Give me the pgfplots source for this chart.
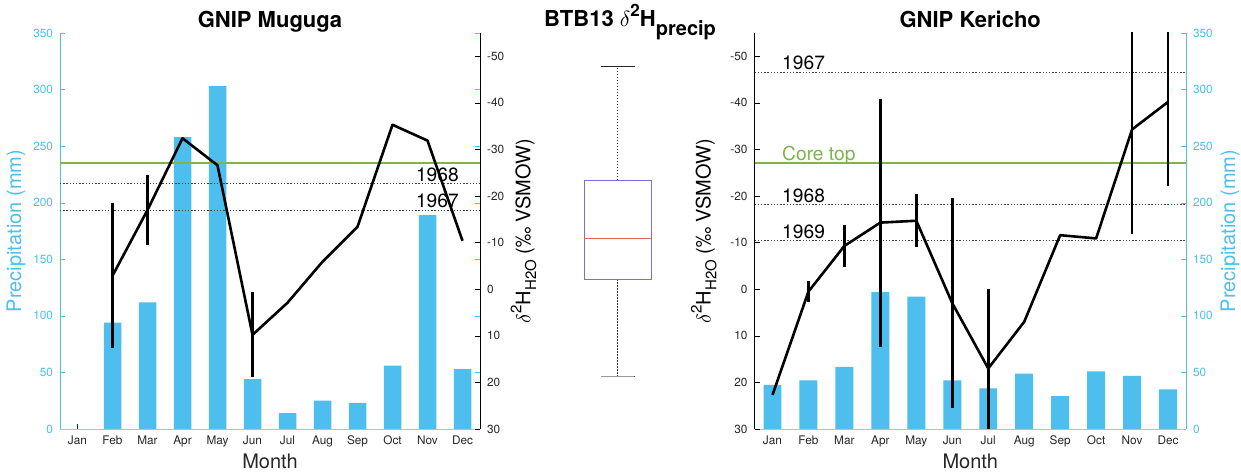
\documentclass[border=0pt]{standalone}
\usepackage{fontspec}
\setmainfont{TeX Gyre Heros}
\usepackage{pgfplots}
\pgfplotsset{compat=1.18}
\usepgfplotslibrary{statistics}
\definecolor{prc}{RGB}{77,190,238}
\definecolor{grn}{RGB}{125,180,75}
\definecolor{txt}{RGB}{38,38,38}
\definecolor{boxblue}{RGB}{115,115,215}
\definecolor{medred}{RGB}{215,105,95}
\newcommand{\dlabel}{$\delta$\raisebox{0.85ex}{\fontsize{7.5}{8}\selectfont 2}H\raisebox{-0.55ex}{\fontsize{7.5}{8}\selectfont H2O} (‰ VSMOW)}
\tikzset{ann/.style={font=\fontsize{9.6}{11}\selectfont, inner sep=0pt}}
\pgfplotsset{
  common/.style={scale only axis, width=210pt, height=198pt, anchor=south west,
    xmin=0.5, xmax=12.5, clip=true,
    /pgf/number format/assume math mode=true,
    tick label style={font=\fontsize{5.9}{7}\selectfont},
    major tick length=2.5pt, tick align=inside,
    label style={font=\fontsize{10}{12}\selectfont},
    every axis title/.style={font=\bfseries\fontsize{11}{13}\selectfont, at={(0.5,1)}, anchor=base, yshift=2.5pt, inner sep=0pt},
    axis line style={-}},
  precip/.style={common, ymin=0, ymax=350, ytick={0,50,...,350},
    axis x line*=bottom,
    xtick={1,...,12}, xticklabels={Jan,Feb,Mar,Apr,May,Jun,Jul,Aug,Sep,Oct,Nov,Dec},
    xticklabel style={txt}, xtick style={txt},
    x axis line style={prc!70,-}, y axis line style={prc,-},
    yticklabel style={prc}, ytick style={prc},
    ylabel={Precipitation (mm)}, ylabel style={prc}, ylabel shift=-3pt,
    xlabel={Month}, xlabel style={txt, yshift=3.5pt}},
  delta/.style={common, ymin=-55, ymax=30, y dir=reverse,
    ytick={-50,-40,...,30}, axis x line=none, xtick=\empty,
    y axis line style={black,-}, yticklabel style={txt}, ytick style={black},
    ylabel={\dlabel}},
  bars/.style={ybar, bar width=0.5, fill=prc, draw=none},
  iso/.style={black, line width=1.3pt, line join=round, mark=none},
  eb/.style={black, line width=1.3pt, mark=none},
  yr/.style={black!75, line width=0.4pt, dash pattern=on 0.7pt off 0.9pt},
  core/.style={grn, line width=1pt},
}
\begin{document}
\begin{tikzpicture}
\path[use as bounding box] (0,0) rectangle (620.5pt,237pt);
% ---------- GNIP Muguga ----------
\begin{axis}[precip, at={(30pt,22.5pt)}]
\addplot[bars] coordinates {(2,94) (3,112) (4,258) (5,303) (6,44) (7,14) (8,25) (9,23) (10,56) (11,189) (12,53)};
\end{axis}
\begin{axis}[delta, at={(30pt,22.5pt)}, axis y line*=right, ylabel shift=-3.5pt, title={GNIP Muguga}]
\addplot[core] coordinates {(0.5,-27.2) (12.5,-27.2)};
\addplot[yr] coordinates {(0.5,-22.7) (12.5,-22.7)};
\addplot[yr] coordinates {(0.5,-17.0) (12.5,-17.0)};
\node[ann, anchor=base west, yshift=1.1pt] at (axis cs:10.66,-22.7) {1968};
\node[ann, anchor=base west, yshift=1.1pt] at (axis cs:10.66,-17.0) {1967};
\addplot[iso] coordinates {(2,-2.9) (3,-17) (4,-32.4) (5,-26.6) (6,9.8) (7,2.9) (8,-5.9) (9,-13.4) (10,-35.3) (11,-31.9) (12,-10.4)};
% error bars (mean +- 1 sd)
\addplot[eb] coordinates {(2,-18.5) (2,12.7)};
\addplot[eb] coordinates {(3,-24.5) (3,-9.5)};
\addplot[eb] coordinates {(6,0.7) (6,18.9)};
\end{axis}
% ---------- BTB13 boxplot ----------
\begin{axis}[scale only axis, width=67pt, height=198pt, anchor=south west, at={(275.25pt,22.5pt)},
  xmin=0, xmax=2, ymin=-55, ymax=30, y dir=reverse, axis lines=none, xtick=\empty, ytick=\empty,
  title={BTB13 $\delta$\raisebox{0.9ex}{\fontsize{8.5}{9}\selectfont 2}H\raisebox{-0.7ex}{\fontsize{10}{11}\selectfont precip}},
  every axis title/.style={font=\bfseries\fontsize{11}{13}\selectfont, at={(0.5,1)}, anchor=base, xshift=6.25pt, yshift=3pt, inner sep=0pt}]
\addplot[boxplot prepared={draw direction=y, draw position=1, lower whisker=-47.9, lower quartile=-23.4,
   median=-10.9, upper quartile=-2.1, upper whisker=18.8, box extend=1, whisker extend=0.5,
   every box/.style={draw=boxblue, line width=0.45pt},
   every median/.style={draw=medred, line width=0.8pt},
   every whisker/.style={draw=black!80, line width=0.4pt, dash pattern=on 0.7pt off 0.8pt}},
   draw=black] coordinates {};
\addplot[black!85, line width=0.5pt] coordinates {(0.75,-47.9) (1.25,-47.9)};
\addplot[black!40, line width=0.6pt] coordinates {(0.75,18.8) (1.25,18.8)};
\end{axis}
% ---------- GNIP Kericho ----------
\begin{axis}[precip, width=215.75pt, at={(377.25pt,22.5pt)}, axis y line*=right]
\addplot[bars] coordinates {(1,39) (2,43) (3,55) (4,121) (5,117) (6,43) (7,36) (8,49) (9,29) (10,51) (11,47) (12,35)};
\end{axis}
\begin{axis}[delta, width=215.75pt, at={(377.25pt,22.5pt)}, axis y line*=left, title={GNIP Kericho}]
\addplot[core] coordinates {(0.5,-27.2) (12.5,-27.2)};
\addplot[yr] coordinates {(0.5,-46.6) (12.5,-46.6)};
\addplot[yr] coordinates {(0.5,-18.2) (12.5,-18.2)};
\addplot[yr] coordinates {(0.5,-10.4) (12.5,-10.4)};
\node[ann, anchor=base west, yshift=1.1pt] at (axis cs:1.26,-46.6) {1967};
\node[ann, anchor=base west, yshift=1.1pt, text=grn] at (axis cs:1.26,-27.2) {Core top};
\node[ann, anchor=base west, yshift=1.1pt] at (axis cs:1.26,-18.2) {1968};
\node[ann, anchor=base west, yshift=1.1pt] at (axis cs:1.26,-10.4) {1969};
\addplot[iso] coordinates {(1,22.7) (2,0.5) (3,-9.3) (4,-14.3) (5,-14.7) (6,3.0) (7,17.0) (8,7.0) (9,-11.6) (10,-10.9) (11,-34.3) (12,-40.2)};
% error bars (mean +- 1 sd)
\addplot[eb] coordinates {(2,-1.8) (2,2.8)};
\addplot[eb] coordinates {(3,-13.8) (3,-4.8)};
\addplot[eb] coordinates {(4,-40.9) (4,12.3)};
\addplot[eb] coordinates {(5,-20.4) (5,-9.0)};
\addplot[eb] coordinates {(6,-19.6) (6,25.6)};
\addplot[eb] coordinates {(7,-0.1) (7,34.1)};
\addplot[eb] coordinates {(11,-56.7) (11,-11.9)};
\addplot[eb] coordinates {(12,-58.3) (12,-22.1)};
\end{axis}
\end{tikzpicture}
\end{document}
